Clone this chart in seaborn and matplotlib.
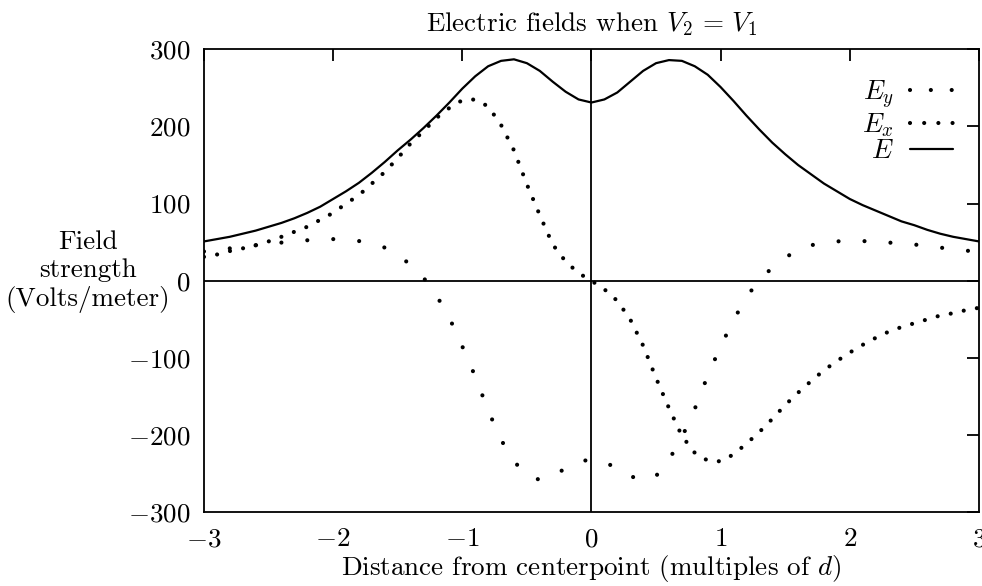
import matplotlib
matplotlib.use("Agg")
import matplotlib.pyplot as plt
from matplotlib.lines import Line2D
import pandas as pd
import seaborn as sns

# Position along the axis (multiples of d)
x_pos = [-3.0, -2.9, -2.8, -2.7, -2.6, -2.5, -2.4, -2.3, -2.2, -2.1,
         -2.0, -1.9, -1.8, -1.7, -1.6, -1.5, -1.4, -1.3, -1.2, -1.1,
         -1.0, -0.9, -0.8, -0.7, -0.6, -0.5, -0.4, -0.3, -0.2, -0.1,
         0.0, 0.1, 0.2, 0.3, 0.4, 0.5, 0.6, 0.7, 0.8, 0.9,
         1.0, 1.1, 1.2, 1.3, 1.4, 1.5, 1.6, 1.7, 1.8, 1.9,
         2.0, 2.1, 2.2, 2.3, 2.4, 2.5, 2.6, 2.7, 2.8, 2.9, 3.0]

# Vertical component E_y (V/m)
field_ey = [38, 40, 42, 44, 46, 48, 49.5, 51, 52.5, 53.5,
            54, 53, 51.5, 48, 43, 33, 21, 4, -19, -48,
            -85, -124, -168, -206, -234, -252, -258, -253, -243, -235,
            -231, -235, -243, -253, -259, -253, -232, -203, -166, -123,
            -85, -51, -21, 1, 17, 30, 40, 46, 49.5, 51,
            52, 51.5, 50.5, 49.5, 48.5, 47, 45, 43, 41, 39, 38]

# Horizontal component E_x (V/m)
field_ex = [31, 34, 38.5, 42, 46, 51, 57, 63.5, 70, 79,
            88, 100, 111, 126, 141, 159, 178, 194, 211, 224,
            234, 235, 226, 202, 169, 125, 85, 47, 25, 10,
            0, -11, -26, -50, -84, -126, -165, -201, -223, -233,
            -234, -225, -211, -196, -179, -161, -145, -130, -116, -104,
            -93, -83, -74, -66, -60, -55, -50, -45, -42, -38, -35]

# Field magnitude E (V/m)
field_e = [51, 54, 57, 61, 65, 70, 75, 81, 88, 96,
           106, 116, 127, 140, 154, 169, 183, 198, 214, 231,
           249, 265, 278, 285, 287, 282, 272, 258, 245, 235,
           231, 235, 244, 258, 272, 282, 286, 285, 278, 267,
           251, 233, 214, 196, 179, 164, 150, 138, 126, 116,
           106, 98, 91, 84, 77, 72, 66, 61, 57, 54, 51]

series_labels = ["$E_y$", "$E_x$", "$E$"]
x_ticks = [-3, -2, -1, 0, 1, 2, 3]
y_ticks = [-300, -200, -100, 0, 100, 200, 300]

FS = 19.5

sns.set_theme(style="white")
plt.rcParams.update({
    "font.family": ["cmr10"],
    "mathtext.fontset": "cm",
    "axes.formatter.use_mathtext": True,
    "axes.unicode_minus": True,
    "lines.scale_dashes": False,
    "font.size": FS,
    "text.color": "black",
    "axes.labelcolor": "black",
    "axes.edgecolor": "black",
    "xtick.color": "black",
    "ytick.color": "black",
})

df = pd.DataFrame({"x": x_pos, "Ey": field_ey, "Ex": field_ex, "E": field_e})

fig = plt.figure(figsize=(9.82, 5.86), dpi=100)
ax = fig.add_axes([0.2077, 0.1258, 0.7892, 0.7901])

# zero axes drawn first so the curves sit on top
ax.axhline(0, color="black", lw=1.3, zorder=1)
ax.axvline(0, color="black", lw=1.3, zorder=1)

dot_ey = (0, (0.01, 18.7))
dot_ex = (0, (0.01, 9.6))
sns.lineplot(data=df, x="x", y="Ey", ax=ax, color="black", linewidth=3.0,
             linestyle=dot_ey, dash_capstyle="round", errorbar=None, zorder=3)
sns.lineplot(data=df, x="x", y="Ex", ax=ax, color="black", linewidth=3.0,
             linestyle=dot_ex, dash_capstyle="round", errorbar=None, zorder=3)
sns.lineplot(data=df, x="x", y="E", ax=ax, color="black", linewidth=1.6,
             errorbar=None, zorder=3)

ax.set_xlim(-3, 3)
ax.set_ylim(-300, 300)
ax.set_xticks(x_ticks)
ax.set_yticks(y_ticks)

for side in ["left", "right", "top", "bottom"]:
    ax.spines[side].set_visible(True)
    ax.spines[side].set_linewidth(1.3)
    ax.spines[side].set_color("black")

ax.tick_params(direction="in", length=8.6, width=1.3, top=True, right=True,
               labelsize=FS)
ax.tick_params(axis="x", pad=11)
ax.tick_params(axis="y", pad=10)

ax.set_title("Electric fields when $V_2\\,=\\,V_1$", fontsize=FS, pad=13)
ax.set_xlabel("Distance from centerpoint (multiples of $d$)", fontsize=FS,
              labelpad=1)
ax.set_ylabel("Field\nstrength\n(Volts/meter)", rotation=0, fontsize=FS,
              ha="center", va="center", multialignment="center",
              linespacing=1.2)
ax.yaxis.set_label_coords(-0.150, 0.520)

# legend samples: label text on the left, line sample on the right
handles = [
    Line2D([], [], color="black", linewidth=3.0, linestyle=(0, (0.01, 15.0)),
           dash_capstyle="round"),
    Line2D([], [], color="black", linewidth=3.0, linestyle=(0, (0.01, 10.2)),
           dash_capstyle="round"),
    Line2D([], [], color="black", linewidth=1.6),
]
ax.legend(handles, series_labels, loc="upper right",
          bbox_to_anchor=(0.967, 0.937), frameon=False, markerfirst=False,
          handlelength=1.6, handletextpad=0.6, labelspacing=0.02,
          borderaxespad=0.0, borderpad=0.0, fontsize=FS)

fig.savefig("out.png", dpi=100)
